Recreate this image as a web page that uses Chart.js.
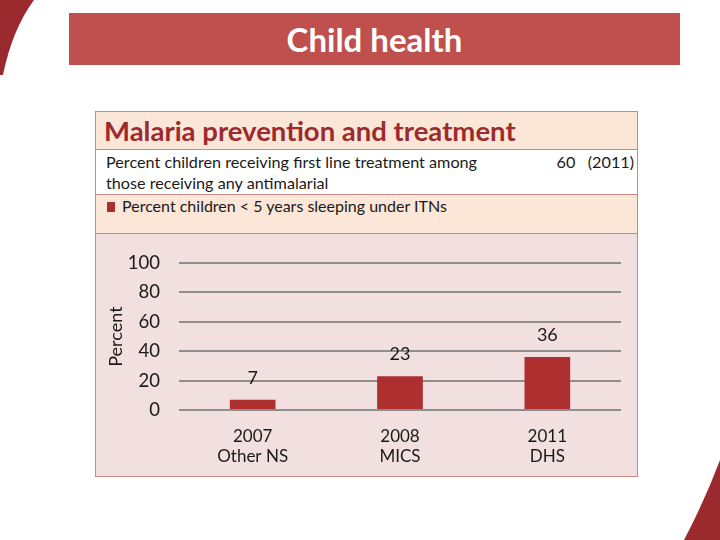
<!DOCTYPE html>
<html>
<head>
<meta charset="utf-8">
<script src="https://cdn.jsdelivr.net/npm/chart.js@4"></script>
<style>
  body { margin: 0; width: 720px; height: 540px; background: #fff; position: relative; overflow: hidden; font-family: Lato, "Open Sans", sans-serif; }
  .deco { position: absolute; left: 0; top: 0; }
  .titlebar { position: absolute; left: 69px; top: 13px; width: 611px; height: 52px; background: #c0504d;
    color: #fff; font-weight: bold; font-size: 33px; text-align: center; line-height: 52px; }
  .panel { position: absolute; left: 95px; top: 111px; width: 541px; height: 364px; border: 1px solid #c98a84; background: #f2dfdf; }
  .head { height: 37px; background: #fce6d8; border-bottom: 1px solid #c98a84; color: #9c2b2e; font-weight: bold; font-size: 27.5px; padding-left: 8px; line-height: 38px; white-space: nowrap; }
  .row1 { height: 44px; background: #fff; border-bottom: 1px solid #c98a84; font-size: 16.2px; color: #1a1a1a; position: relative; }
  .row1 .txt { position: absolute; left: 10px; top: 1px; line-height: 21px; white-space: nowrap; }
  .row1 .val { position: absolute; right: 3px; top: 1px; line-height: 21px; }
  .row2 { height: 38px; background: #fce6d8; border-bottom: 1px solid #c98a84; font-size: 16px; color: #1a1a1a; position: relative; }
  .row2 .sq { position: absolute; left: 11px; top: 7px; width: 8px; height: 10px; background: #a8302f; }
  .row2 .txt { position: absolute; left: 26px; top: 0px; line-height: 22px; }
  .chartbox { position: absolute; left: 0; top: 121px; width: 541px; height: 243px; }
</style>
</head>
<body>
<svg class="deco" width="720" height="540">
  <path d="M0,0 L34,0 Q12,30 3,75 L0,75 Z" fill="#9b2a2e"/>
  <path d="M684,540 Q705,500 720,460 L720,540 Z" fill="#9b2a2e"/>
</svg>
<div class="titlebar">Child health</div>
<div class="panel">
  <div class="head">Malaria prevention and treatment</div>
  <div class="row1">
    <div class="txt">Percent children receiving first line treatment among<br>those receiving any antimalarial</div>
    <div class="val">60&nbsp;&nbsp;&nbsp;(2011)</div>
  </div>
  <div class="row2"><div class="sq"></div><div class="txt">Percent children &lt; 5 years sleeping under ITNs</div></div>
  <div class="chartbox"><canvas id="itnChart" width="541" height="243"></canvas></div>
</div>
<script>
// Percent children < 5 years sleeping under ITNs
const surveys = [['2007', 'Other NS'], ['2008', 'MICS'], ['2011', 'DHS']];
const itnValues = [7, 23, 36];
const yTicks = [0, 20, 40, 60, 80, 100];

const barLabels = {
    id: 'barLabels',
    afterDatasetsDraw(chart) {
        const ctx = chart.ctx;
        ctx.save();
        ctx.font = '18px Lato, sans-serif';
        ctx.fillStyle = '#1a1a1a';
        ctx.textAlign = 'center';
        ctx.textBaseline = 'middle';
        chart.getDatasetMeta(0).data.forEach((bar, i) => {
            ctx.fillText(itnValues[i], bar.x, bar.y - 22);
        });
        ctx.restore();
    }
};

const ctxItn = document.getElementById('itnChart').getContext('2d');
new Chart(ctxItn, {
    type: 'bar',
    data: {
        labels: surveys,
        datasets: [{
            label: 'Percent children < 5 years sleeping under ITNs',
            data: itnValues,
            backgroundColor: '#ad2f2f',
            barPercentage: 0.31,
            categoryPercentage: 1
        }]
    },
    options: {
        responsive: false,
        animation: false,
        layout: { padding: { left: 0, right: 16, top: 30, bottom: 0 } },
        plugins: { legend: { display: false }, tooltip: { enabled: false } },
        scales: {
            y: {
                min: 0,
                max: 100,
                afterBuildTicks: (axis) => { axis.ticks = yTicks.map(v => ({ value: v })); },
                afterFit: (axis) => { axis.width = 83; },
                grid: { color: '#8e8e8e', lineWidth: 2, drawTicks: false },
                border: { display: false },
                ticks: { color: '#1a1a1a', font: { family: 'Lato', size: 18.5 }, padding: 19 },
                title: { display: true, text: 'Percent', color: '#1a1a1a', font: { family: 'Lato', size: 18 }, padding: { top: 9, bottom: 0 } }
            },
            x: {
                afterFit: (axis) => { axis.height = 66; },
                grid: { display: false, drawTicks: false },
                border: { display: false },
                ticks: { color: '#1a1a1a', font: { family: 'Lato', size: 17 }, padding: 16 }
            }
        }
    },
    plugins: [barLabels]
});
</script>
</body>
</html>
